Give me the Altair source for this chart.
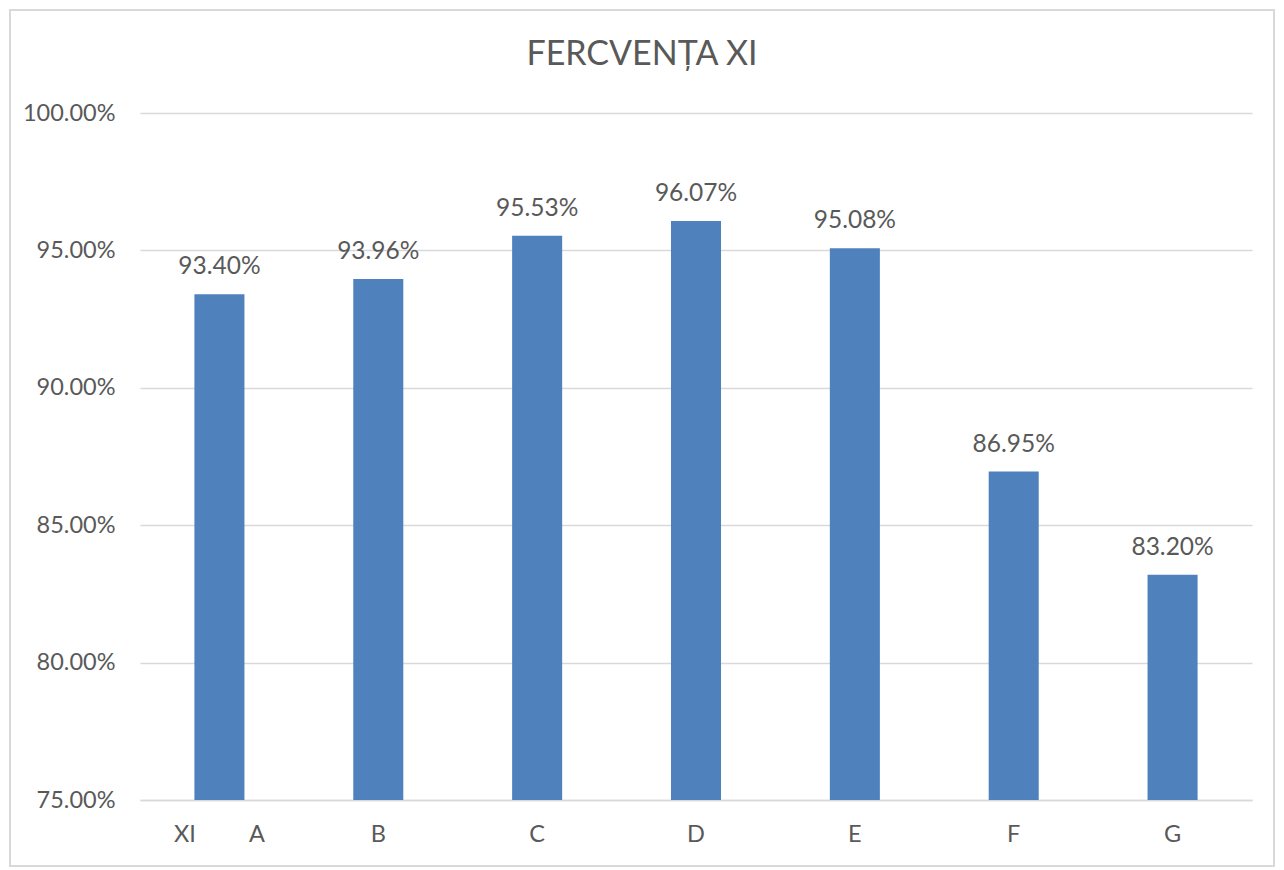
import altair as alt
import pandas as pd

categories = ["XI A", "B", "C", "D", "E", "F", "G"]
values = [0.9340, 0.9396, 0.9553, 0.9607, 0.9508, 0.8695, 0.8320]
y_ticks = [0.75, 0.80, 0.85, 0.90, 0.95, 1.00]
title_text = "FERCVENȚA XI"

df = pd.DataFrame({"cat": categories, "val": values})

FONT = "Lato"
TXT = "#595959"
GRID = "#d9d9d9"
BAR = "#4f81bd"

W, H = 1112, 687
nbsp = "\u00a0" * 9

x = alt.X("cat:N", sort=categories, title=None,
          scale=alt.Scale(paddingInner=0, paddingOuter=0),
          axis=alt.Axis(labelAngle=0, ticks=False, domain=True,
                        domainColor=GRID, domainWidth=1.5,
                        labelPadding=22, labelFontSize=23.5,
                        labelColor=TXT, labelFont=FONT,
                        labelExpr="replace(datum.label, ' ', '" + nbsp + "')"))
y = alt.Y("val:Q", title=None,
          scale=alt.Scale(domain=[0.75, 1.0], nice=False, zero=False),
          axis=alt.Axis(values=y_ticks, format=".2%", ticks=False, domain=False,
                        grid=True, gridColor=GRID, gridWidth=1.5,
                        labelPadding=25, labelFontSize=23.5, labelColor=TXT,
                        labelFont=FONT))

bars = alt.Chart(df).mark_bar(color=BAR, width={"band": 0.315}, clip=True).encode(x=x, y=y)
labels = alt.Chart(df).mark_text(font=FONT, fontSize=24.5, color=TXT,
                                 baseline="alphabetic", dy=-20).encode(
    x=alt.X("cat:N", sort=categories),
    y="val:Q",
    text=alt.Text("val:Q", format=".2%"))

frame = alt.Chart(pd.DataFrame({"f": [0]})).mark_rect(
    fill=None, stroke=GRID, strokeWidth=2).encode(
    x=alt.value(-130), x2=alt.value(1134),
    y=alt.value(-103), y2=alt.value(753))

chart = alt.layer(frame, bars, labels).properties(
    width=W, height=H,
    autosize=alt.AutoSizeParams(type="none"),
    padding={"left": 132, "top": 105, "right": 24, "bottom": 68},
    title=alt.TitleParams(title_text, anchor="middle", fontSize=34,
                          font=FONT, color=TXT, fontWeight="normal",
                          offset=0, dx=-54, dy=63),
).configure(background="white").configure_view(stroke=None)

chart.save("out.html", embed_options={"renderer": "svg", "actions": False})
